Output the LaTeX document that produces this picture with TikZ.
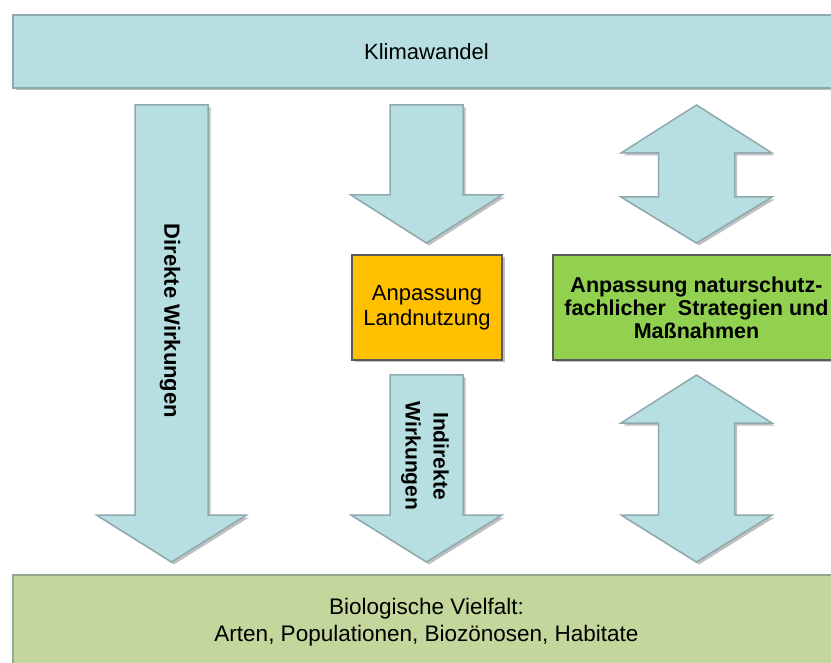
\documentclass[tikz,border=0pt]{standalone}
\usepackage{fontspec}
\setmainfont{Liberation Sans}
\usetikzlibrary{shadows}
\definecolor{abfill}{HTML}{B7DFE1}
\definecolor{abdraw}{HTML}{8FAAAE}
\definecolor{orfill}{HTML}{FFC000}
\definecolor{grfill}{HTML}{92D050}
\definecolor{bofill}{HTML}{C3D69B}
\definecolor{bodraw}{HTML}{98A590}
\definecolor{dkdraw}{HTML}{5A5A5A}
\tikzset{
  shad/.style={drop shadow={shadow xshift=2.5pt,shadow yshift=-2.5pt,opacity=.35,fill=black!70}},
  blockarrow/.style={fill=abfill,draw=abdraw,line width=1.5pt,line join=miter,shad},
  bigbox/.style={rectangle,inner sep=0pt,line width=1.5pt,shad},
  regtext/.style={font=\fontsize{22}{27}\selectfont},
  boldtext/.style={font=\bfseries\fontsize{21.5}{23}\selectfont}
}
\begin{document}
\begin{tikzpicture}[x=1pt,y=-1pt]
\clip (0,0) rectangle (831,663);
\fill[white] (0,0) rectangle (831,663);
% boxes
\node[bigbox,fill=abfill,draw=abdraw,minimum width=827pt,minimum height=73pt,regtext] (klima) at (426.5,51.5) {Klimawandel};
\node[bigbox,fill=bofill,draw=bodraw,minimum width=827pt,minimum height=95pt,align=center,font=\fontsize{22.5}{27}\selectfont] (bio) at (426.5,622.5) {Biologische Vielfalt:\\Arten, Populationen, Biozönosen, Habitate};
\node[bigbox,fill=orfill,draw=dkdraw,minimum width=150pt,minimum height=105pt,align=center,font=\fontsize{22}{25}\selectfont] (land) at (427,307.5) {Anpassung\\Landnutzung};
\node[bigbox,fill=grfill,draw=dkdraw,minimum width=287pt,minimum height=105pt,boldtext,align=center] (nat) at (696.5,307.5) {Anpassung naturschutz-\\fachlicher\ \ Strategien und\\Maßnahmen};
% arrows
\path[blockarrow] (135,105) -- (208,105) -- (208,515) -- (246.5,515) -- (171.5,562) -- (96.5,515) -- (135,515) -- cycle;
\path[blockarrow] (390,105) -- (463,105) -- (463,195) -- (502,195) -- (426.5,243) -- (351,195) -- (390,195) -- cycle;
\path[blockarrow] (390,375) -- (463,375) -- (463,515) -- (502,515) -- (426.5,562) -- (351,515) -- (390,515) -- cycle;
\path[blockarrow] (696.5,105) -- (772,153) -- (734.5,153) -- (734.5,197) -- (772,197) -- (696.5,243) -- (621,197) -- (658.5,197) -- (658.5,153) -- (621,153) -- cycle;
\path[blockarrow] (696.5,375) -- (772,423) -- (734.5,423) -- (734.5,515) -- (772,515) -- (696.5,562) -- (621,515) -- (658.5,515) -- (658.5,423) -- (621,423) -- cycle;
% arrow labels
\node[rotate=-90,font=\bfseries\fontsize{22}{26}\selectfont] (direkt) at (170,321) {Direkte Wirkungen};
\node[rotate=-90,align=center,font=\bfseries\fontsize{21}{28}\selectfont] (indirekt) at (425,456) {Indirekte\\Wirkungen};
\end{tikzpicture}
\end{document}
